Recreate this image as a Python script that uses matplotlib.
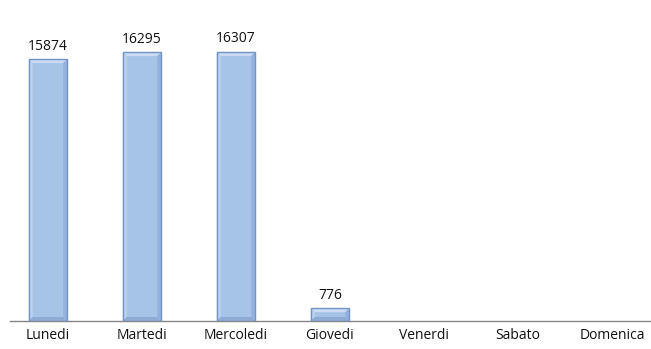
import matplotlib.pyplot as plt
from matplotlib.patches import Polygon

giorni = ["Lunedi", "Martedi", "Mercoledi", "Giovedi", "Venerdi", "Sabato", "Domenica"]
valori = [15874, 16295, 16307, 776, 0, 0, 0]

plt.rcParams['font.family'] = ['Open Sans', 'DejaVu Sans']

W, H = 651, 349
fig = plt.figure(figsize=(W / 100, H / 100), dpi=100)
# axes in pixel terms: left 10, right 651, bottom at y=321 (from top)
ax = fig.add_axes([10 / W, 28 / H, 641 / W, 321 / H])

pitch = 94.0
ax.set_xlim(-38 / pitch, 603 / pitch)
ymax = 321 / 16.5 * 1000
ax.set_ylim(0, ymax)

x = range(len(giorni))
bars = ax.bar(x, valori, width=0.41, color="#A6C3E8", linewidth=0, zorder=2)

# bevel effect on each bar
bx = 4 / pitch          # 4 px in data x
by = 4 / 16.5 * 1000    # 4 px in data y
for b, v in zip(bars, valori):
    h = b.get_height()
    if h <= 0:
        continue
    x0, w = b.get_x(), b.get_width()
    x1 = x0 + w
    d = min(by, h / 2)
    top = Polygon([(x0, h), (x1, h), (x1 - bx, h - d), (x0 + bx, h - d)],
                  closed=True, facecolor="#CADCF3", edgecolor="none", zorder=3)
    left = Polygon([(x0, 0), (x0, h), (x0 + bx, h - d), (x0 + bx, d)],
                   closed=True, facecolor="#BBD2F0", edgecolor="none", zorder=3)
    right = Polygon([(x1, 0), (x1, h), (x1 - bx, h - d), (x1 - bx, d)],
                    closed=True, facecolor="#93B1DC", edgecolor="none", zorder=3)
    bot = Polygon([(x0, 0), (x1, 0), (x1 - bx, d), (x0 + bx, d)],
                  closed=True, facecolor="#8EABD5", edgecolor="none", zorder=3)
    for p in (top, left, right, bot):
        ax.add_patch(p)
    ax.add_patch(plt.Rectangle((x0, 0), w, h, fill=False, edgecolor="#7393C4", linewidth=1.0, zorder=4))
    ax.text(x0 + w / 2, h + 13 / 16.5 * 1000, str(v),
            ha="center", va="center", fontsize=10, color="#111111")

ax.set_xticks(list(x))
ax.set_xticklabels(giorni, fontsize=10, color="#111111")
ax.tick_params(axis="x", length=0, pad=5)
ax.set_yticks([])
for s in ["top", "right", "left"]:
    ax.spines[s].set_visible(False)
ax.spines["bottom"].set_color("#868686")
ax.spines["bottom"].set_linewidth(1.0)

fig.savefig("out.png", dpi=100)
